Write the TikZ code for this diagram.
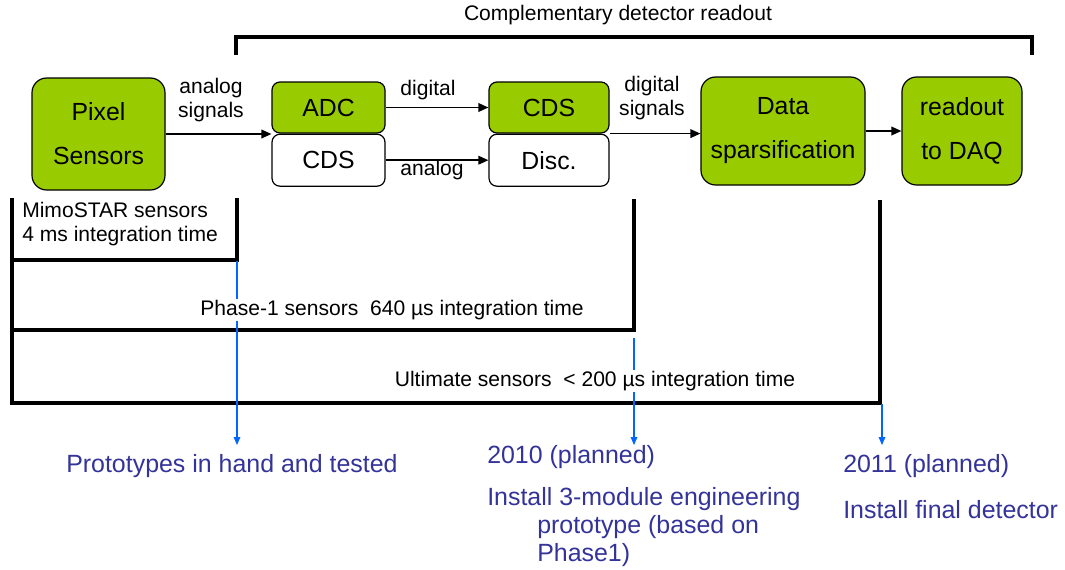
\documentclass[tikz,border=0pt]{standalone}
\usepackage{fontspec}
\setmainfont{Liberation Sans}
\usetikzlibrary{arrows.meta,positioning}

\definecolor{boxgreen}{RGB}{153,204,0}
\definecolor{txtblue}{RGB}{51,51,153}
\definecolor{arrblue}{RGB}{0,102,255}

\tikzset{
  greenbox/.style={draw, fill=boxgreen, rounded corners=11pt, line width=0.9pt, align=center, inner sep=0pt, font=\fontsize{18.6}{33}\selectfont},
  halfgreen/.style={draw, fill=boxgreen, rounded corners=6pt, line width=0.9pt, inner sep=0pt, font=\fontsize{18.6}{22}\selectfont},
  halfwhite/.style={draw, fill=white, rounded corners=6pt, line width=0.9pt, inner sep=0pt, font=\fontsize{18.6}{22}\selectfont},
  lbl/.style={inner sep=1pt, align=center, font=\fontsize{15.8}{18}\selectfont},
  bluetxt/.style={inner sep=0pt, align=left, text=txtblue, font=\fontsize{18.7}{21}\selectfont},
  bracket/.style={line width=3pt, line join=miter},
  conn/.style={-{Triangle[length=7.5pt,width=6.5pt]}, line width=1.1pt},
  bluearr/.style={-{Triangle[length=6pt,width=5pt]}, arrblue, line width=0.8pt}
}

\begin{document}
\begin{tikzpicture}[x=0.75pt, y=-0.75pt]
\useasboundingbox (0,0) rectangle (1065,569);

% top bracket
\node[lbl] (title) at (618,15) {Complementary detector readout};
\draw[bracket] (236,55) -- (236,37) -- (1032,37) -- (1032,55);

% blocks
\node[greenbox, minimum width=99.75pt, minimum height=84pt] (pix) at (98.5,134) {Pixel\\Sensors};
\node[halfgreen, minimum width=84.75pt, minimum height=38.25pt] (adc) at (328.5,107.5) {ADC};
\node[halfwhite, minimum width=84.75pt, minimum height=39pt, below=0pt of adc] (cdsa) {CDS};
\node[halfgreen, minimum width=90pt, minimum height=38.25pt] (cdsb) at (549,107.5) {CDS};
\node[halfwhite, minimum width=90pt, minimum height=39pt, below=0pt of cdsb] (disc) {Disc.};
\node[greenbox, minimum width=123pt, minimum height=81pt] (spars) at (783,131) {Data\\sparsification};
\node[greenbox, minimum width=90pt, minimum height=81pt] (daq) at (962,131) {readout\\to DAQ};

% connectors
\node[lbl] (lanalog) at (211,100) {analog\\signals};
\node[lbl] (ldig) at (428,90) {digital};
\node[lbl] (lana) at (432,170) {analog};
\node[lbl] (ldigsig) at (652,98) {digital\\signals};
\draw[conn] (pix.east) -- (pix.east -| adc.south west);
\draw[conn] (adc.east) -- (cdsb.west);
\draw[conn] (cdsa.east) -- (disc.west);
\draw[conn] (cdsb.south east) -- (cdsb.south east -| spars.west);
\draw[conn] (spars.east) -- (daq.west);

% sensor brackets
\draw[bracket] (12,198) -- (12,403) -- (880,403) -- (880,200);
\draw[bracket] (12,260) -- (237,260) -- (237,198);
\draw[bracket] (12,330) -- (634,330) -- (634,199);

% blue arrows
\coordinate (mimo) at (237,261);
\coordinate (phase) at (634,338);
\coordinate (ulti) at (882,404);
\draw[bluearr] (mimo) -- (mimo |- 0,445);
\draw[bluearr] (phase) -- (phase |- 0,445);
\draw[bluearr] (ulti) -- (ulti |- 0,445);

\node[lbl, align=left, anchor=west, inner sep=0pt] (tmimo) at (22,224.5) {MimoSTAR sensors\\4 ms integration time};
\node[lbl, fill=white] (tphase) at (392,310) {Phase-1 sensors\ \ 640 µs integration time};
\node[lbl, fill=white] (tulti) at (595,381) {Ultimate sensors\ \ < 200 µs integration time};

% milestones
\node[bluetxt, anchor=west] (proto) at (66,466) {Prototypes in hand and tested};
\node[bluetxt, anchor=west] (y2010) at (487,457) {2010 (planned)};
\node[bluetxt, anchor=north west] (inst3) at (487,487) {Install 3-module engineering\\\hspace*{37.5pt}prototype (based on\\\hspace*{37.5pt}Phase1)};
\node[bluetxt, anchor=west] (y2011) at (843,466) {2011 (planned)};
\node[bluetxt, anchor=west] (final) at (843,510) {Install final detector};
\end{tikzpicture}
\end{document}
